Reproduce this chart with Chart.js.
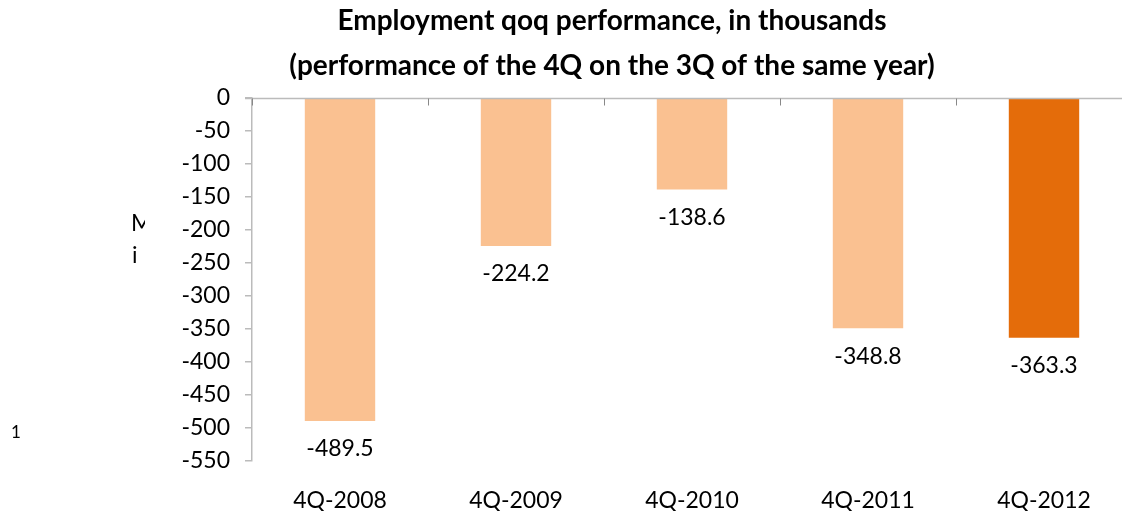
<!DOCTYPE html>
<html>
<head>
<meta charset="utf-8">
<script src="https://cdn.jsdelivr.net/npm/chart.js@4.4.0/dist/chart.umd.min.js"></script>
<style>
  html, body { margin: 0; padding: 0; background: #fff; overflow: hidden; }
  #wrap { width: 1122px; height: 511px; overflow: hidden; position: relative; }
  canvas { display: block; }
</style>
</head>
<body>
<div id="wrap"><canvas id="c" width="1140" height="511"></canvas></div>
<script>
const categories = ['4Q-2008', '4Q-2009', '4Q-2010', '4Q-2011', '4Q-2012'];
const values = [-489.5, -224.2, -138.6, -348.8, -363.3];
const barColors = ['#FAC191', '#FAC191', '#FAC191', '#FAC191', '#E46C0A'];
const titleLines = ['Employment qoq performance, in thousands', '(performance of the 4Q on the 3Q of the same year)'];
const yMin = -550, yMax = 0, yStep = 50;

const FONT = 'Lato, "Open Sans", sans-serif';

const extras = {
  id: 'extras',
  afterDraw(chart) {
    const ctx = chart.ctx;
    const x = chart.scales.x, y = chart.scales.y;
    const area = chart.chartArea;
    ctx.save();
    // zero line
    const y0 = Math.round(y.getPixelForValue(0)) + 0.5;
    ctx.strokeStyle = '#BBBBBB';
    ctx.lineWidth = 1.5;
    ctx.beginPath();
    ctx.moveTo(area.left - 7, y0);
    ctx.lineTo(area.right, y0);
    ctx.stroke();
    // category boundary ticks
    ctx.strokeStyle = '#888888';
    ctx.lineWidth = 1;
    const step = x.getPixelForValue(1) - x.getPixelForValue(0);
    for (let i = 0; i <= categories.length; i++) {
      const px = x.getPixelForValue(Math.min(i, categories.length - 1)) + (i < categories.length ? -step / 2 : step / 2);
      const rx = Math.round(px) + 0.5;
      ctx.beginPath();
      ctx.moveTo(rx, y0);
      ctx.lineTo(rx, y0 + 7);
      ctx.stroke();
    }
    // data labels
    ctx.fillStyle = '#000';
    ctx.font = '23px ' + FONT;
    ctx.textAlign = 'center';
    ctx.textBaseline = 'middle';
    const meta = chart.getDatasetMeta(0);
    meta.data.forEach((bar, i) => {
      ctx.fillText(values[i].toFixed(1), bar.x, bar.y + 28);
    });
    // title
    ctx.font = 'bold 28px ' + FONT;
    ctx.fillText(titleLines[0], 612, 21);
    ctx.fillText(titleLines[1], 612, 66);
    // clipped stray text fragments
    ctx.font = '23px ' + FONT;
    ctx.textAlign = 'left';
    ctx.save();
    ctx.beginPath();
    ctx.rect(0, 0, 145, 511);
    ctx.clip();
    ctx.fillText('M', 131, 224);
    ctx.restore();
    ctx.fillText('i', 132, 256);
    ctx.font = '17px ' + FONT;
    ctx.fillText('1', 11, 433);
    ctx.restore();
  }
};

new Chart(document.getElementById('c'), {
  type: 'bar',
  data: {
    labels: categories,
    datasets: [{
      data: values,
      backgroundColor: barColors,
      borderWidth: 0,
      barPercentage: 0.4,
      categoryPercentage: 1.0
    }]
  },
  options: {
    responsive: false,
    animation: false,
    events: [],
    layout: { padding: { left: 0, right: 8, top: 98, bottom: 0 } },
    plugins: { legend: { display: false }, tooltip: { enabled: false }, title: { display: false } },
    scales: {
      x: {
        position: 'bottom',
        grid: { display: false, drawTicks: false },
        border: { display: false },
        ticks: { color: '#000', font: { family: FONT, size: 23 }, padding: 26, maxRotation: 0 },
        afterFit(s) { s.height = 50; }
      },
      y: {
        min: yMin, max: yMax,
        grid: { drawOnChartArea: false, tickLength: 7, color: '#BBBBBB', lineWidth: 1.5 },
        border: { display: true, color: '#BBBBBB', width: 1.5 },
        ticks: { stepSize: yStep, color: '#000', font: { family: FONT, size: 23 }, padding: 15 },
        afterFit(s) { s.width = 252; }
      }
    }
  },
  plugins: [extras]
});
</script>
</body>
</html>
